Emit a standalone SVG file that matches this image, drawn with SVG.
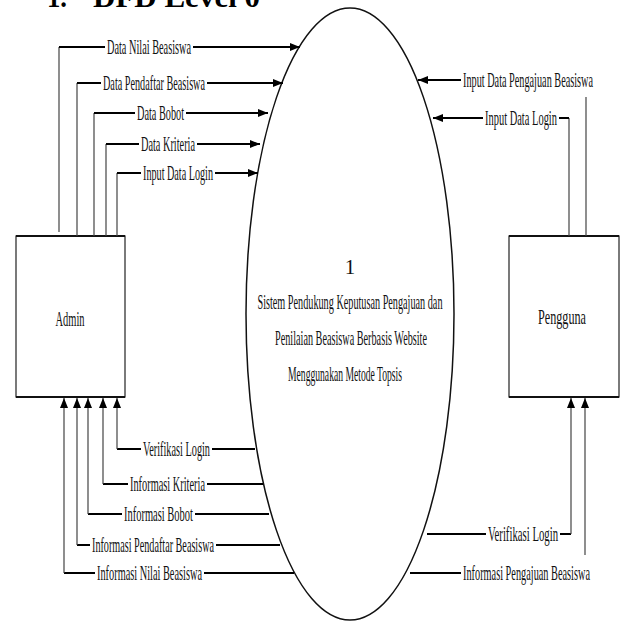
<svg xmlns="http://www.w3.org/2000/svg" width="624" height="626" viewBox="0 0 624 626">
<style>
.lbl{font-family:"Liberation Serif","Times New Roman",serif;font-size:21px;fill:#111}
.ttl{font-family:"Liberation Serif","Times New Roman",serif;font-size:30px;font-weight:bold;fill:#000}
.h{stroke:#000;stroke-width:2;fill:none}
.v{stroke:#444;stroke-width:1.2;fill:none}
.box{fill:#fff;stroke:#222;stroke-width:1.2}
.edge{stroke:#111;stroke-width:2.2}
</style>
<defs>
<marker id="ah" markerUnits="userSpaceOnUse" markerWidth="10" markerHeight="8" refX="10" refY="4" orient="auto">
<path d="M0,0 L10,4 L0,8 Z" fill="#000"/>
</marker>
</defs>
<text class="ttl" x="47" y="7" textLength="20" lengthAdjust="spacingAndGlyphs">1.</text>
<text class="ttl" x="93" y="7" textLength="167" lengthAdjust="spacingAndGlyphs">DFD Level 0</text>

<g id="process">
<ellipse cx="350" cy="314" rx="104" ry="306" fill="none" stroke="#111" stroke-width="1.5"/>
<text class="lbl" x="350" y="274" text-anchor="middle">1</text>
<text class="lbl" x="350" y="309" text-anchor="middle" textLength="185" lengthAdjust="spacingAndGlyphs">Sistem Pendukung Keputusan Pengajuan dan</text>
<text class="lbl" x="351" y="345" text-anchor="middle" textLength="152" lengthAdjust="spacingAndGlyphs">Penilaian Beasiswa Berbasis Website</text>
<text class="lbl" x="345" y="381" text-anchor="middle" textLength="114" lengthAdjust="spacingAndGlyphs">Menggunakan Metode Topsis</text>
</g>

<g id="admin">
<rect class="box" x="16" y="236" width="109" height="161"/>
<line class="edge" x1="16" y1="236" x2="125" y2="236"/>
<line class="edge" x1="16" y1="397" x2="125" y2="397"/>
<text class="lbl" x="70" y="326" text-anchor="middle" textLength="29" lengthAdjust="spacingAndGlyphs">Admin</text>
</g>

<g id="pengguna">
<rect class="box" x="509" y="236" width="110" height="161"/>
<line class="edge" x1="509" y1="236" x2="619" y2="236"/>
<line class="edge" x1="509" y1="397" x2="619" y2="397"/>
<text class="lbl" x="562" y="324" text-anchor="middle" textLength="48" lengthAdjust="spacingAndGlyphs">Pengguna</text>
</g>

<g id="connectors">
<path class="v" d="M59,232 V47"/><path class="h" d="M59,47 H105"/><path class="h" d="M193,47 H300" marker-end="url(#ah)"/>
<path class="v" d="M77,236 V83"/><path class="h" d="M77,83 H101"/><path class="h" d="M207,83 H283" marker-end="url(#ah)"/>
<path class="v" d="M94,236 V113"/><path class="h" d="M94,113 H135"/><path class="h" d="M186,113 H268" marker-end="url(#ah)"/>
<path class="v" d="M106,236 V144"/><path class="h" d="M106,144 H139"/><path class="h" d="M197,144 H260" marker-end="url(#ah)"/>
<path class="v" d="M117,236 V173"/><path class="h" d="M117,173 H141"/><path class="h" d="M215,173 H258" marker-end="url(#ah)"/>

<path class="h" d="M255,449 H212"/><path class="h" d="M141,449 H117"/><path class="v" d="M117,449 V398" marker-end="url(#ah)"/>
<path class="h" d="M263,484 H207"/><path class="h" d="M128,484 H103"/><path class="v" d="M103,484 V398" marker-end="url(#ah)"/>
<path class="h" d="M269,514 H195"/><path class="h" d="M122,514 H88"/><path class="v" d="M88,514 V398" marker-end="url(#ah)"/>
<path class="h" d="M280,545 H216"/><path class="h" d="M90,545 H77"/><path class="v" d="M77,545 V398" marker-end="url(#ah)"/>
<path class="h" d="M294,573 H204"/><path class="h" d="M95,573 H64"/><path class="v" d="M64,573 V398" marker-end="url(#ah)"/>

<path class="v" d="M586,236 V97"/><path class="h" d="M461,80 H418" marker-end="url(#ah)"/>
<path class="v" d="M569,236 V118"/><path class="h" d="M569,118 H559"/><path class="h" d="M483,118 H433" marker-end="url(#ah)"/>

<path class="h" d="M427,534 H486"/><path class="h" d="M560,534 H571"/><path class="v" d="M571,534 V398" marker-end="url(#ah)"/>
<path class="h" d="M410,573 H461"/><path class="v" d="M585,555 V398" marker-end="url(#ah)"/>
</g>

<g id="labels">
<text class="lbl" x="107" y="54" textLength="84" lengthAdjust="spacingAndGlyphs">Data Nilai Beasiswa</text>
<text class="lbl" x="103" y="90" textLength="102" lengthAdjust="spacingAndGlyphs">Data Pendaftar Beasiswa</text>
<text class="lbl" x="137" y="120" textLength="47" lengthAdjust="spacingAndGlyphs">Data Bobot</text>
<text class="lbl" x="141" y="151" textLength="54" lengthAdjust="spacingAndGlyphs">Data Kriteria</text>
<text class="lbl" x="143" y="180" textLength="70" lengthAdjust="spacingAndGlyphs">Input Data Login</text>
<text class="lbl" x="463" y="87" textLength="130" lengthAdjust="spacingAndGlyphs">Input Data Pengajuan Beasiswa</text>
<text class="lbl" x="485" y="125" textLength="72" lengthAdjust="spacingAndGlyphs">Input Data Login</text>
<text class="lbl" x="143" y="456" textLength="67" lengthAdjust="spacingAndGlyphs">Verifikasi Login</text>
<text class="lbl" x="130" y="491" textLength="75" lengthAdjust="spacingAndGlyphs">Informasi Kriteria</text>
<text class="lbl" x="124" y="521" textLength="69" lengthAdjust="spacingAndGlyphs">Informasi Bobot</text>
<text class="lbl" x="92" y="552" textLength="122" lengthAdjust="spacingAndGlyphs">Informasi Pendaftar Beasiswa</text>
<text class="lbl" x="97" y="580" textLength="105" lengthAdjust="spacingAndGlyphs">Informasi Nilai Beasiswa</text>
<text class="lbl" x="488" y="541" textLength="70" lengthAdjust="spacingAndGlyphs">Verifikasi Login</text>
<text class="lbl" x="463" y="580" textLength="127" lengthAdjust="spacingAndGlyphs">Informasi Pengajuan Beasiswa</text>
</g>
</svg>
